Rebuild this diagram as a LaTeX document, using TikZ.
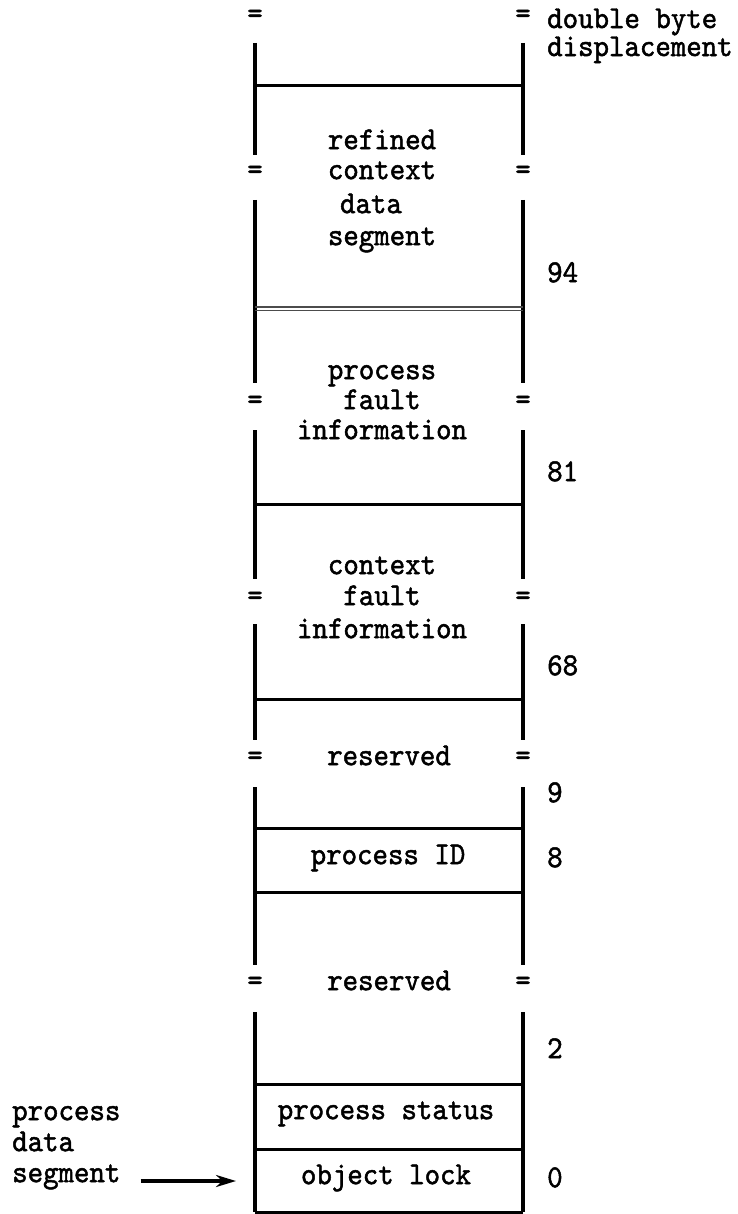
\documentclass[tikz,border=0pt]{standalone}
\usepackage{fontspec}
\usetikzlibrary{arrows.meta}
\newfontfamily\twfam{lmmono10-regular.otf}[FakeStretch=0.92,FakeBold=1.5]
\newcommand\twfont{\twfam\fontsize{32}{28}\selectfont}
\begin{document}
\begin{tikzpicture}[x=1pt,y=-1pt,
  lbl/.style={font=\twfont, inner sep=0pt, anchor=mid},
  lblw/.style={font=\twfont, inner sep=0pt, anchor=mid west},
  num/.style={font=\twfont, inner sep=0pt, anchor=mid west, yshift=-3pt},
  eqs/.style={font=\twfont, inner sep=0pt, anchor=mid},
  wall/.style={line width=3.5pt},
  sepline/.style={line width=3pt},
  thinsep/.style={line width=1.2pt, black!70}]
\useasboundingbox (0,0) rectangle (737,1214);

% walls (left x=255, right x=523)
\foreach \a/\b in {43/155, 200/383, 430/579, 624/740, 787/965, 1012/1212}{
  \draw[wall] (255,\a) -- (255,\b);
  \draw[wall] (523,\a) -- (523,\b);
}
% separators
\foreach \y in {86, 504, 699, 828, 892, 1084, 1149, 1212}{
  \draw[sepline] (255,\y) -- (523,\y);
}
\draw[thinsep] (255,307) -- (523,307);
\draw[thinsep] (255,310.5) -- (523,310.5);

% break marks
\node[eqs] (eL0) at (255,21) {=};
\node[eqs] (eR0) at (523,21) {=};
\node[eqs] (eL1) at (255,177) {=};
\node[eqs] (eR1) at (523,177) {=};
\node[eqs] (eL2) at (255,407) {=};
\node[eqs] (eR2) at (523,407) {=};
\node[eqs] (eL3) at (255,603) {=};
\node[eqs] (eR3) at (523,603) {=};
\node[eqs] (eL4) at (255,763) {=};
\node[eqs] (eR4) at (523,763) {=};
\node[eqs] (eL5) at (255,988) {=};
\node[eqs] (eR5) at (523,988) {=};

% header
\node[font=\twfont, inner sep=0pt, anchor=north west, align=left] (hdr) at (547,8.3) {double byte\\displacement};

% field texts
\node[lbl] (rc1) at (382,147) {refined};
\node[lbl] (rc2) at (382,177) {context};
\node[lbl] (rc3) at (371,211) {data};
\node[lbl] (rc4) at (382,243) {segment};

\node[lbl] (pf1) at (382,377) {process};
\node[lbl] (pf2) at (382,407) {fault};
\node[lbl] (pf3) at (382,437) {information};

\node[lbl] (cf1) at (382,572) {context};
\node[lbl] (cf2) at (382,603) {fault};
\node[lbl] (cf3) at (382,636) {information};

\node[lbl] (res1) at (389,763) {reserved};
\node[lbl] (pid) at (388,862) {process ID};
\node[lbl] (res2) at (389,988) {reserved};
\node[lbl] (pst) at (386,1117) {process status};
\node[lbl] (olk) at (386,1182) {object lock};

% displacements
\node[num] (d94) at (547,277) {94};
\node[num] (d81) at (547,476) {81};
\node[num] (d68) at (547,670) {68};
\node[num] (d9) at (547,797) {9};
\node[num] (d8) at (547,862) {8};
\node[num] (d2) at (547,1053) {2};
\node[num] (d0) at (547,1182) {0};

% left label and arrow
\node[lblw] (pds1) at (12,1118) {process};
\node[lblw] (pds2) at (12,1149) {data};
\node[lblw] (pds3) at (12,1180) {segment};
\coordinate (tip) at (236,1181);
\draw[line width=3.5pt, -{Stealth[length=20pt,width=12pt]}] ([xshift=20pt,yshift=-1pt]pds3.mid east) -- (tip);
\end{tikzpicture}
\end{document}
